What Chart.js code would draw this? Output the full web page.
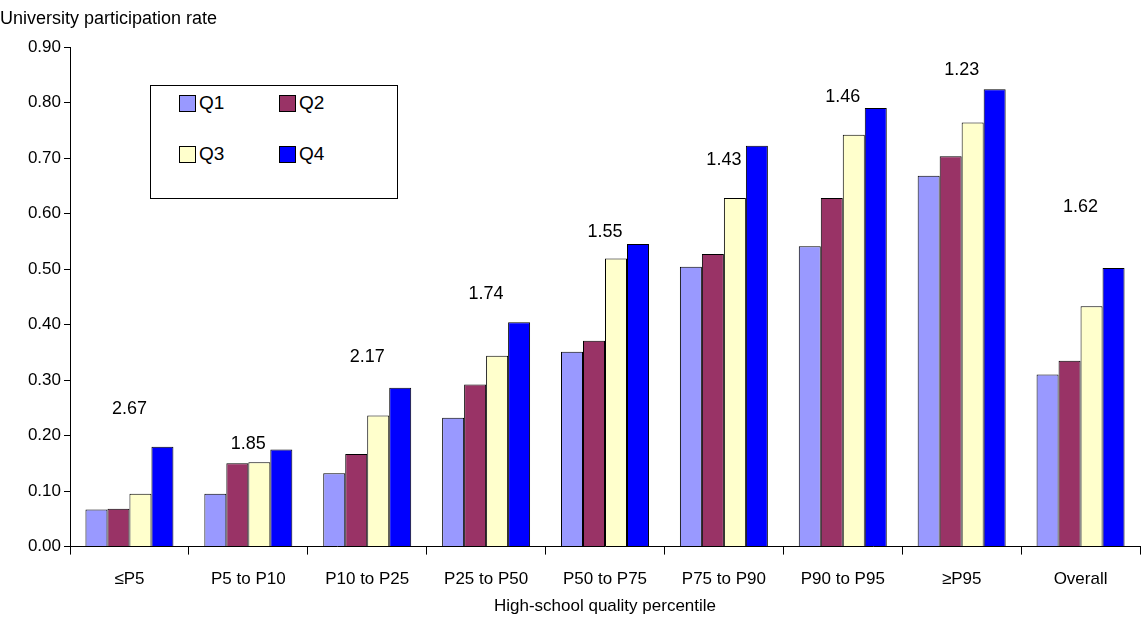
<!DOCTYPE html>
<html><head><meta charset="utf-8">
<script src="https://cdn.jsdelivr.net/npm/chart.js@4"></script>
<style>
body{margin:0;background:#fff;font-family:Arial,"Liberation Sans",sans-serif}
#wrap{position:relative;width:1142px;height:627px}
#ytitle{position:absolute;left:0;top:8px;font-size:18px;color:#000}
#xtitle{position:absolute;left:70px;width:1070px;top:596px;text-align:center;font-size:17px;color:#000}
#legend{position:absolute;left:150px;top:85px;width:246px;height:112px;border:1px solid #000;background:#fff;font-size:19px}
.it{position:absolute;display:flex;align-items:center}
.sw{width:15px;height:15px;border:1px solid #000;margin-right:3px}
</style></head>
<body>
<div id="wrap">
<canvas id="c" width="1142" height="627"></canvas>
<div id="ytitle">University participation rate</div>
<div id="xtitle">High-school quality percentile</div>
<div id="legend"></div>
</div>
<script>
// data
const categories = ["≤P5","P5 to P10","P10 to P25","P25 to P50","P50 to P75","P75 to P90","P90 to P95","≥P95","Overall"];
const q1 = [0.067,0.095,0.132,0.232,0.351,0.504,0.541,0.668,0.310];
const q2 = [0.068,0.150,0.167,0.292,0.371,0.527,0.628,0.703,0.335];
const q3 = [0.095,0.152,0.236,0.344,0.519,0.628,0.742,0.764,0.433];
const q4 = [0.180,0.175,0.286,0.404,0.545,0.722,0.790,0.824,0.502];
const ratioLabels = ["2.67","1.85","2.17","1.74","1.55","1.43","1.46","1.23","1.62"];
const ratioLevel = [0.248,0.185,0.342,0.455,0.567,0.696,0.810,0.858,0.612];
const seriesNames = ["Q1","Q2","Q3","Q4"];
const colors = ["#9999FF","#993366","#FFFFCC","#0000FF"];

const ratioPlugin = {
  id: "ratios",
  afterDatasetsDraw(chart) {
    const ctx = chart.ctx, x = chart.scales.x, y = chart.scales.y;
    ctx.save();
    ctx.font = "18px Arial, 'Liberation Sans'";
    ctx.fillStyle = "#000";
    ctx.textAlign = "center";
    ctx.textBaseline = "middle";
    ratioLabels.forEach((t, i) => ctx.fillText(t, x.getPixelForValue(i), y.getPixelForValue(ratioLevel[i])));
    ctx.restore();
  }
};

new Chart(document.getElementById("c"), {
  type: "bar",
  data: {
    labels: categories,
    datasets: [q1, q2, q3, q4].map((d, i) => ({
      label: seriesNames[i], data: d, backgroundColor: colors[i],
      borderColor: "#000", borderWidth: 1
    }))
  },
  options: {
    responsive: false, animation: false,
    layout: { padding: { top: 47, right: 2, left: 0, bottom: 22 } },
    categoryPercentage: 0.74, barPercentage: 1,
    plugins: { legend: { display: false }, tooltip: { enabled: false } },
    scales: {
      x: {
        grid: { drawOnChartArea: false, color: "#000", tickLength: 8, offset: true },
        border: { color: "#000" },
        ticks: { color: "#000", font: { size: 17, family: "Arial" }, padding: 15 }
      },
      y: {
        min: 0, max: 0.9,
        grid: { drawOnChartArea: false, color: "#000", tickLength: 6 },
        border: { color: "#000" },
        afterFit(s) { s.width = 70; },
        ticks: { stepSize: 0.1, color: "#000", font: { size: 17, family: "Arial" }, callback: v => v.toFixed(2) }
      }
    }
  },
  plugins: [ratioPlugin]
});

// legend in a 2x2 grid like the original
const lg = document.getElementById("legend");
const pos = [[28,6],[128,6],[28,57],[128,57]];
seriesNames.forEach((n, i) => {
  const d = document.createElement("div");
  d.className = "it";
  d.style.left = pos[i][0] + "px"; d.style.top = pos[i][1] + "px";
  d.innerHTML = '<span class="sw" style="background:' + colors[i] + '"></span>' + n;
  lg.appendChild(d);
});
</script>
</body></html>
